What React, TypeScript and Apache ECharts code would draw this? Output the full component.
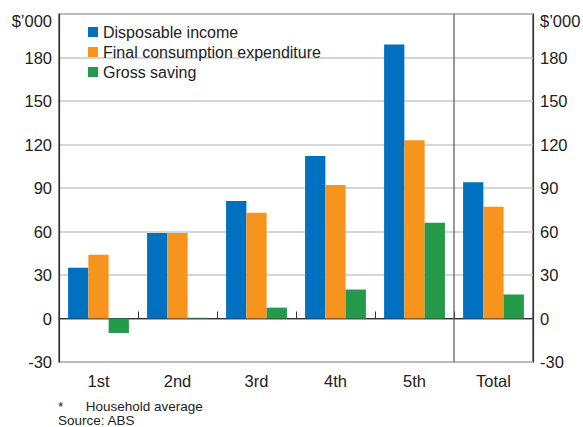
import React, { useEffect, useRef } from "react";
import * as echarts from "echarts";

const categories = ["1st", "2nd", "3rd", "4th", "5th", "Total"];
const disposableIncome = [35, 59, 81, 112, 189, 94];
const finalConsumption = [44, 59, 73, 92, 123, 77];
const grossSaving = [-10, 0.5, 7.5, 20, 66, 16.5];
const seriesNames = ["Disposable income", "Final consumption expenditure", "Gross saving"];
const colors = ["#0070C0", "#F7941D", "#249A4A"];
const footnotes = ["*      Household average", "Source: ABS"];
const unitLabel = "$\u2019000";

const FONT = "'Liberation Sans', Arial, sans-serif";
const AX_FS = 16.5;

export default function App() {
  const ref = useRef<HTMLDivElement>(null);
  useEffect(() => {
    if (!ref.current) return;
    const chart = echarts.init(ref.current, null, { renderer: "svg" });
    const gridColors = ["#c8c8c8", "#8a8a8a", "#c8c8c8", "#c8c8c8", "#c8c8c8", "#c8c8c8", "#c8c8c8", "#c8c8c8", "#c8c8c8"];
    const yAxisBase = (pos: "left" | "right") => ({
      type: "value",
      position: pos,
      min: -30,
      max: 210,
      interval: 30,
      axisLine: { show: true, lineStyle: { color: "#333", width: 1.2 } },
      axisTick: { show: false },
      axisLabel: {
        color: "#222",
        fontSize: AX_FS,
        fontFamily: FONT,
        margin: 7,
        formatter: (v: number) => (v === 210 ? "" : String(v)),
      },
      splitLine: pos === "left" ? { show: true, lineStyle: { color: gridColors, width: 1.5 } } : { show: false },
    });
    const series = [disposableIncome, finalConsumption, grossSaving].map((d, i) => ({
      name: seriesNames[i],
      type: "bar",
      data: d,
      barGap: "0%",
      barCategoryGap: "23%",
      itemStyle: { color: colors[i] },
      yAxisIndex: 0,
    }));
    const gridLeft = 59;
    const gridRight = 50;
    const gridTop = 14;
    const gridBottom = 65;
    chart.setOption({
      animation: false,
      color: colors,
      grid: {
        left: gridLeft,
        right: gridRight,
        top: gridTop,
        bottom: gridBottom,
        show: true,
        borderColor: "#333",
        borderWidth: 1.2,
        containLabel: false,
      },
      legend: {
        data: seriesNames,
        orient: "vertical",
        left: 83,
        top: 19,
        icon: "rect",
        itemWidth: 10,
        itemHeight: 10,
        itemGap: 4,
        textStyle: { fontSize: 16, color: "#222", fontFamily: FONT },
      },
      xAxis: {
        type: "category",
        data: categories,
        axisLine: { show: true, lineStyle: { color: "#333", width: 1.2 } },
        axisTick: { show: true, inside: true, length: 7, lineStyle: { color: "#333" } },
        axisLabel: { color: "#222", fontSize: AX_FS, fontFamily: FONT, margin: 10 },
        splitLine: { show: false },
      },
      yAxis: [yAxisBase("left"), yAxisBase("right")],
      series,
      graphic: [
        {
          id: "unitL",
          type: "text",
          right: 583 - 52,
          top: 12,
          style: { text: unitLabel, fill: "#222", font: `${AX_FS}px ${FONT}` },
        },
        {
          id: "unitR",
          type: "text",
          left: 540,
          top: 12,
          style: { text: unitLabel, fill: "#222", font: `${AX_FS}px ${FONT}` },
        },
        {
          id: "foot1",
          type: "text",
          left: 58,
          top: 399,
          style: { text: footnotes[0], fill: "#222", font: `13.5px ${FONT}` },
        },
        {
          id: "foot2",
          type: "text",
          left: 58,
          top: 413,
          style: { text: footnotes[1], fill: "#222", font: `13.5px ${FONT}` },
        },
      ],
    });
    // separator between the quintiles and the total, at the category boundary
    const x4 = chart.convertToPixel({ xAxisIndex: 0 }, categories[4]) as number;
    const x5 = chart.convertToPixel({ xAxisIndex: 0 }, categories[5]) as number;
    const sepX = Math.round((x4 + x5) / 2);
    chart.setOption({
      graphic: [
        {
          id: "sep",
          type: "line",
          shape: { x1: sepX, y1: gridTop, x2: sepX, y2: 427 - gridBottom },
          style: { stroke: "#555", lineWidth: 1.2 },
          z: 10,
        },
      ],
    });
    return () => chart.dispose();
  }, []);
  return <div ref={ref} style={{ width: 583, height: 427, position: "absolute", left: 0, top: 0 }} />;
}
